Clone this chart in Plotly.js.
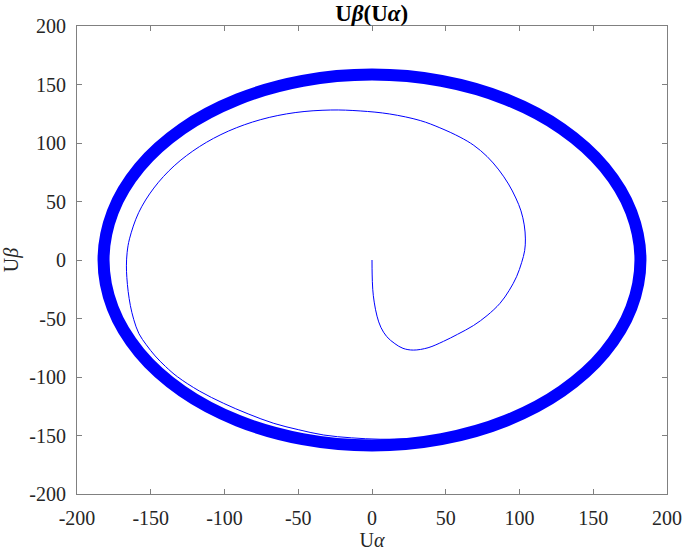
<!DOCTYPE html>
<html>
<head>
<meta charset="utf-8">
<script src="https://cdn.plot.ly/plotly-3.0.1.min.js"></script>
<style>html,body{margin:0;padding:0;background:#fff;}#chart{width:685px;height:553px;}</style>
</head>
<body>
<div id="chart"></div>
<script>
// Transient spiral (U alpha, U beta)
const transientUalpha = [0, 0.1, 0.5, 1.5, 3.4, 6, 10, 15.5, 21, 28, 38, 48.5, 58, 68.8, 78, 86.8, 93, 98, 101.5, 103.5, 104, 103.2, 101, 97.5, 92.5, 86, 78, 69, 59.7, 46, 32.7, 12, -8, -28, -52.1, -75.4, -97.3, -117, -134.1, -147.9, -158.2, -164.4, -166, -166.5, -166.2, -165.3, -163.8, -161.5, -158, -153, -147, -140, -132, -117, -100.6, -84, -66.6, -50, -32.7, -14, 5.5, 25, 45, 60];
const transientUbeta  = [0, -12, -25, -36, -48, -57.5, -65.5, -71.5, -75.5, -77, -75, -69.5, -63.5, -56, -47.5, -37, -26, -14.3, -2, 8, 18, 30, 42, 53, 65, 77, 88.5, 98, 105, 113, 119.2, 124.8, 127.4, 128.2, 126, 120, 110.2, 96.9, 80.5, 61.5, 40.5, 18.1, 6.6, -5, -15, -27, -39, -51, -63, -72.5, -82, -91, -99.7, -112, -122.5, -131.5, -139.6, -145, -149.6, -152, -153.2, -152.8, -151, -148.5];

// Steady-state orbit (thick band)
const steadyUalpha = [182, 175.8, 157.6, 128.7, 91, 47.1, 0, -47.1, -91, -128.7, -157.6, -175.8, -182, -175.8, -157.6, -128.7, -91, -47.1, 0, 47.1, 91, 128.7, 157.6, 175.8, 182];
const steadyUbeta  = [0, 41, 79.3, 112.1, 137.3, 153.1, 158.5, 153.1, 137.3, 112.1, 79.3, 41, 0, -41, -79.3, -112.1, -137.3, -153.1, -158.5, -153.1, -137.3, -112.1, -79.3, -41, 0];

const xTicks = [-200, -150, -100, -50, 0, 50, 100, 150, 200];
const yTicks = [-200, -150, -100, -50, 0, 50, 100, 150, 200];

const fontFam = '"Liberation Serif", "Times New Roman", serif';
const txtCol = '#262626';

const traces = [
  {x: transientUalpha, y: transientUbeta, mode: 'lines', type: 'scatter',
   line: {color: '#0000ff', width: 1, shape: 'spline', smoothing: 1}, hoverinfo: 'skip'},
  {x: steadyUalpha, y: steadyUbeta, mode: 'lines', type: 'scatter',
   line: {color: '#0000ff', width: 12, shape: 'spline', smoothing: 1}, hoverinfo: 'skip'}
];

const axisCommon = {
  showgrid: false, zeroline: false,
  showline: true, linecolor: '#808080', linewidth: 1, mirror: 'ticks',
  ticks: 'inside', ticklen: 5, tickwidth: 1, tickcolor: '#808080',
  tickfont: {family: fontFam, size: 20, color: txtCol},
  tickmode: 'array'
};

const layout = {
  width: 685, height: 553,
  margin: {l: 77, r: 18, t: 26, b: 59, pad: 0},
  paper_bgcolor: '#ffffff', plot_bgcolor: '#ffffff',
  showlegend: false,
  title: {text: '<b>U<i>β</i>(U<i>α</i>)</b>', font: {family: fontFam, size: 23, color: '#000'},
          x: 0.5426, xanchor: 'center', y: 0.976, yanchor: 'middle', yref: 'container'},
  xaxis: Object.assign({}, axisCommon, {range: [-200, 200], tickvals: xTicks, ticktext: xTicks.map(String),
          ticklabelstandoff: 6,
          title: {text: 'U<i>α</i>', font: {family: fontFam, size: 20, color: txtCol}, standoff: 3}}),
  yaxis: Object.assign({}, axisCommon, {range: [-200, 200], tickvals: yTicks, ticktext: yTicks.map(String),
          ticklabelstandoff: 6,
          title: {text: 'U<i>β</i>', font: {family: fontFam, size: 20, color: txtCol}, standoff: 10}})
};

Plotly.newPlot('chart', traces, layout, {staticPlot: true, displayModeBar: false});
</script>
</body>
</html>
